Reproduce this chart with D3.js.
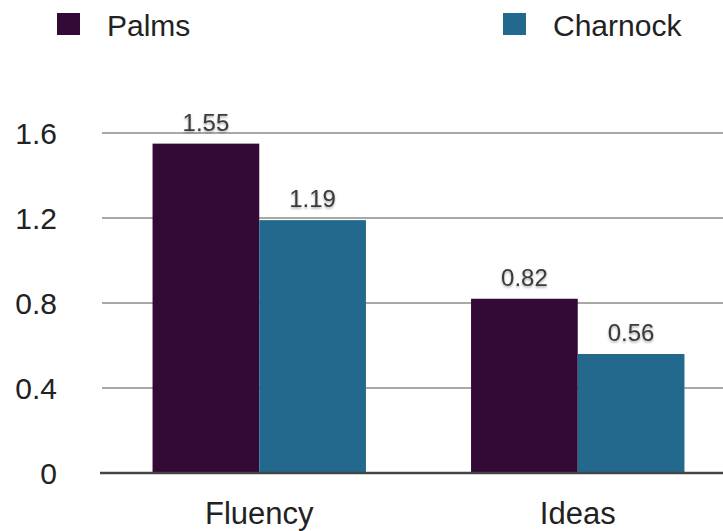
<!DOCTYPE html>
<html><head><meta charset="utf-8">
<script src="https://cdn.jsdelivr.net/npm/d3@7/dist/d3.min.js"></script>
<style>
body{margin:0;background:#fff;}
text{font-family:"Liberation Sans",Arial,Helvetica,sans-serif;}
</style></head>
<body>
<svg id="c" width="723" height="531"></svg>
<script>
const categories = ["Fluency", "Ideas"];
const seriesNames = ["Palms", "Charnock"];
const palms = [1.55, 0.82];
const charnock = [1.19, 0.56];
const yTicks = [0, 0.4, 0.8, 1.2, 1.6];
const yTickLabels = ["0", "0.4", "0.8", "1.2", "1.6"];
const colors = ["#330a35", "#23698d"];

const svg = d3.select("#c");
const defs = svg.append("defs");
const f = defs.append("filter").attr("id","sh").attr("x","-20%").attr("y","-20%").attr("width","140%").attr("height","160%");
f.append("feDropShadow").attr("dx",0).attr("dy",1.5).attr("stdDeviation",1.2).attr("flood-color","#000").attr("flood-opacity",0.35);

const y = d3.scaleLinear().domain([0, 1.6]).range([473, 133]);
const x0 = d3.scaleBand().domain(categories).range([100, 737]).paddingInner(0.33).paddingOuter(0.165);
const x1 = d3.scaleBand().domain(seriesNames).range([0, x0.bandwidth()]);

// gridlines
svg.append("g").selectAll("line").data(yTicks.filter(d => d > 0)).join("line")
  .attr("x1", 102).attr("x2", 723)
  .attr("y1", d => y(d)).attr("y2", d => y(d))
  .attr("stroke", "#a8a8a8").attr("stroke-width", 2);

// y tick labels
svg.append("g").selectAll("text").data(yTicks).join("text")
  .attr("x", 57).attr("y", d => y(d)).attr("dy", "0.36em")
  .attr("text-anchor", "end").attr("font-size", 30).attr("fill", "#222")
  .text((d, i) => yTickLabels[i]);

const data = categories.map((c, i) => ({cat: c, vals: [palms[i], charnock[i]]}));

const groups = svg.append("g").selectAll("g").data(data).join("g")
  .attr("transform", d => `translate(${x0(d.cat)},0)`);

groups.selectAll("rect").data(d => d.vals.map((v, j) => ({v, s: seriesNames[j], j}))).join("rect")
  .attr("x", d => x1(d.s)).attr("width", x1.bandwidth())
  .attr("y", d => y(d.v)).attr("height", d => y(0) - y(d.v))
  .attr("fill", d => colors[d.j]);

groups.selectAll("text").data(d => d.vals.map((v, j) => ({v, s: seriesNames[j], j}))).join("text")
  .attr("x", d => x1(d.s) + x1.bandwidth() / 2).attr("y", d => y(d.v) - 13)
  .attr("text-anchor", "middle").attr("font-size", 24).attr("fill", "#3a3a3a")
  .attr("filter", "url(#sh)")
  .text(d => d.v.toFixed(2));

// axis line
svg.append("line").attr("x1", 100).attr("x2", 723).attr("y1", y(0)).attr("y2", y(0))
  .attr("stroke", "#444").attr("stroke-width", 2.5);

// x labels
svg.append("g").selectAll("text").data(categories).join("text")
  .attr("x", d => x0(d) + x0.bandwidth() / 2).attr("y", 524)
  .attr("text-anchor", "middle").attr("font-size", 31).attr("fill", "#222")
  .text(d => d);

// legend
const legX = [57, 503];
const leg = svg.append("g").selectAll("g").data(seriesNames).join("g")
  .attr("transform", (d, i) => `translate(${legX[i]},13)`);
leg.append("rect").attr("width", 23).attr("height", 22).attr("fill", (d, i) => colors[i]);
leg.append("text").attr("x", 50).attr("y", 23).attr("font-size", 30).attr("fill", "#222")
  .text(d => d);
</script>
</body></html>
